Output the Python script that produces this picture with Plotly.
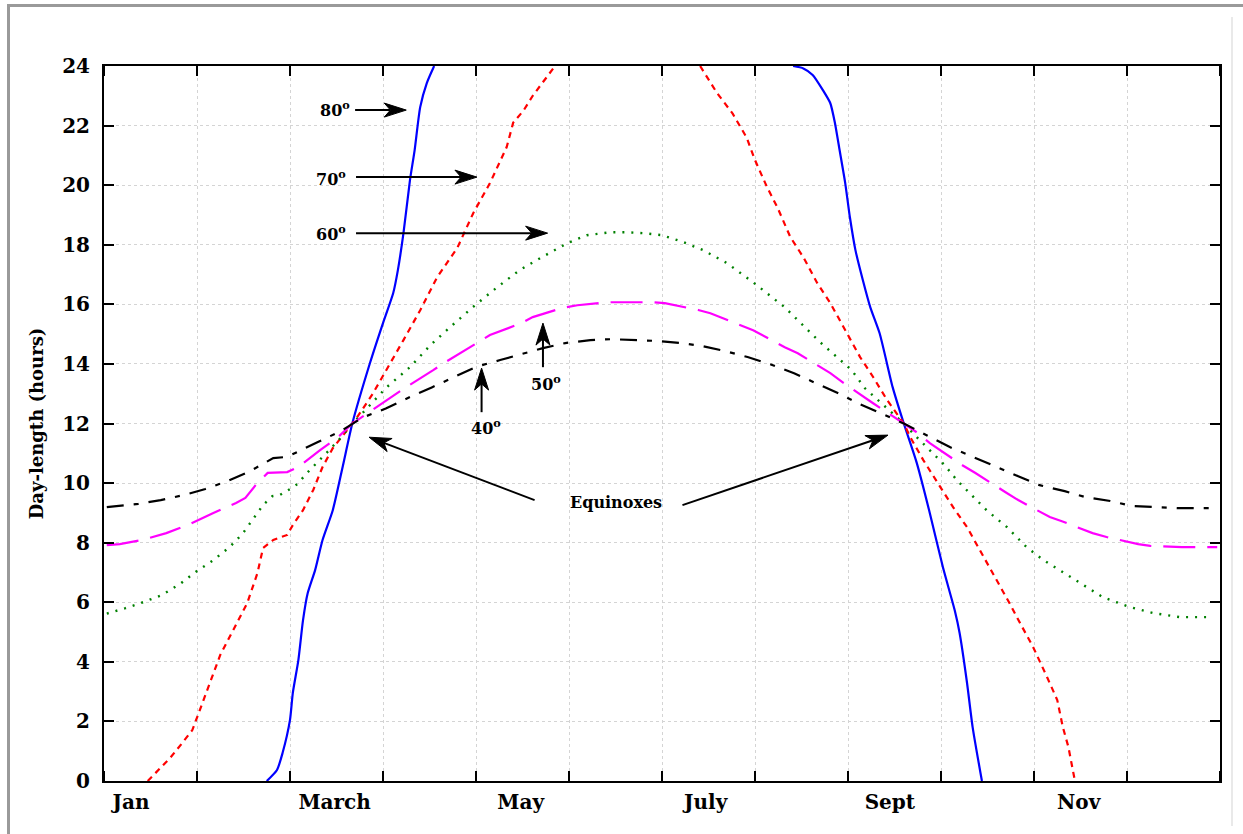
import math
import plotly.graph_objects as go

# Day length (hours) through the year for several northern latitudes.
# x values are in months since 1 January (0 = Jan 1, 12 = Dec 31).
# None marks the stretch of continuous daylight (polar day) that runs off the top of the axis.

lat40_month = [0.03, 0.37, 0.61, 0.86, 1.09, 1.33, 1.57, 1.82, 1.97, 2.06, 2.30, 2.55, 2.67,
               2.78, 3.03, 3.29, 3.53, 3.77, 4.00, 4.26, 4.49, 4.72, 4.96, 5.23, 5.46, 5.72,
               5.96, 6.20, 6.43, 6.68, 6.92, 7.16, 7.42, 7.65, 7.89, 8.13, 8.37, 8.60, 8.85,
               9.10, 9.35, 9.59, 9.83, 10.06, 10.33, 10.55, 10.82, 11.05, 11.30, 11.55, 11.97]
lat40_hours = [9.19, 9.30, 9.43, 9.60, 9.80, 10.07, 10.40, 10.84, 10.88, 11.02, 11.38, 11.75, 12.00,
               12.20, 12.50, 12.89, 13.22, 13.56, 13.90, 14.13, 14.33, 14.53, 14.70, 14.80, 14.83, 14.80,
               14.77, 14.70, 14.60, 14.43, 14.23, 13.99, 13.69, 13.36, 13.02, 12.65, 12.32, 12.00, 11.60,
               11.20, 10.87, 10.54, 10.23, 9.93, 9.73, 9.53, 9.40, 9.23, 9.19, 9.16, 9.16]

lat50_month = [0.03, 0.17, 0.41, 0.67, 0.92, 1.17, 1.42, 1.52, 1.63, 1.76, 1.97, 2.09, 2.32, 2.52,
               2.67, 3.05, 3.20, 3.54, 3.67, 4.01, 4.15, 4.49, 4.61, 4.92, 5.09, 5.41, 5.57,
               5.90, 6.03, 6.39, 6.52, 6.84, 6.98, 7.32, 7.46, 7.81, 7.94, 8.27, 8.42, 8.60,
               8.75, 8.88, 9.23, 9.37, 9.69, 9.83, 10.17, 10.30, 10.63, 10.78, 11.12, 11.25,
               11.59, 11.97]
lat50_hours = [7.92, 7.95, 8.09, 8.32, 8.62, 8.99, 9.33, 9.50, 9.93, 10.34, 10.37, 10.54, 11.10, 11.55,
               12.00, 12.79, 13.12, 13.79, 14.06, 14.70, 14.97, 15.37, 15.57, 15.87, 15.97, 16.07, 16.07,
               16.07, 16.04, 15.81, 15.70, 15.30, 15.13, 14.56, 14.36, 13.69, 13.39, 12.68, 12.38, 12.00,
               11.68, 11.34, 10.60, 10.34, 9.70, 9.43, 8.86, 8.72, 8.32, 8.19, 7.95, 7.89,
               7.85, 7.85]

lat60_month = [0.03, 0.23, 0.42, 0.62, 0.82, 1.00, 1.17, 1.35, 1.49, 1.60, 1.71, 1.81, 1.89, 2.00,
               2.08, 2.18, 2.30, 2.41, 2.54, 2.67, 2.78, 3.04, 3.29, 3.51, 3.72, 3.99, 4.23,
               4.47, 4.69, 4.98, 5.19, 5.44, 5.62, 5.80, 6.00, 6.23, 6.44, 6.70, 6.98, 7.19,
               7.32, 7.70, 7.89, 8.04, 8.18, 8.32, 8.47, 8.60, 8.74, 8.88, 9.04, 9.17, 9.31,
               9.49, 9.71, 9.92, 10.10, 10.28, 10.53, 10.74, 11.03, 11.28, 11.57, 11.86]
lat60_hours = [5.62, 5.80, 6.00, 6.24, 6.62, 7.05, 7.40, 7.85, 8.30, 8.80, 9.26, 9.56, 9.60, 9.80,
               9.97, 10.33, 10.70, 11.07, 11.50, 12.00, 12.35, 13.22, 13.89, 14.63, 15.23, 15.97, 16.58,
               17.15, 17.55, 18.05, 18.32, 18.42, 18.42, 18.39, 18.32, 18.09, 17.82, 17.38, 16.74, 16.24,
               15.90, 14.73, 14.19, 13.79, 13.19, 12.79, 12.35, 12.00, 11.54, 11.11, 10.60, 10.10, 9.66,
               9.09, 8.52, 7.85, 7.42, 7.08, 6.58, 6.17, 5.84, 5.64, 5.50, 5.50]

lat70_month = [0.47, 0.71, 0.84, 0.95, 1.03, 1.14, 1.25, 1.39, 1.54, 1.65, 1.71, 1.82, 1.97,
               2.03, 2.14, 2.25, 2.35, 2.46, 2.57, 2.67, 2.72, 2.89, 3.04, 3.22, 3.40, 3.58,
               3.80, 3.97, 4.15, 4.26, 4.33, 4.40, 4.51, 4.61, 4.71, 4.85, None,
               6.41, 6.59, 6.76, 6.91, 7.00, 7.13, 7.24, 7.38, 7.52, 7.67, 7.81, 7.99, 8.13,
               8.27, 8.42, 8.60, 8.67, 8.81, 8.99, 9.13, 9.28, 9.42, 9.56, 9.74, 9.85, 9.99,
               10.14, 10.25, 10.31, 10.37, 10.44]
lat70_hours = [0.00, 0.77, 1.27, 1.71, 2.38, 3.29, 4.23, 5.07, 5.97, 6.98, 7.82, 8.09, 8.26,
               8.59, 9.09, 9.77, 10.54, 11.17, 11.60, 12.00, 12.20, 13.00, 13.80, 14.80, 15.80, 16.90,
               17.90, 19.06, 20.07, 20.80, 21.28, 22.10, 22.50, 23.00, 23.40, 24.00, None,
               24.00, 23.10, 22.40, 21.60, 20.84, 19.93, 19.26, 18.26, 17.58, 16.71, 16.04, 15.03, 14.23,
               13.56, 12.79, 12.00, 11.54, 10.77, 9.87, 9.19, 8.52, 7.75, 6.98, 5.95, 5.30, 4.50,
               3.49, 2.72, 1.81, 1.14, 0.00]

lat80_month = [1.75, 1.86, 1.92, 2.00, 2.03, 2.09, 2.14, 2.19, 2.27, 2.35, 2.46, 2.57, 2.67,
               2.86, 3.00, 3.11, 3.16, 3.22, 3.29, 3.34, 3.40, 3.47, 3.55, None,
               7.41, 7.52, 7.62, 7.73, 7.81, 7.86, 7.91, 7.97, 8.02, 8.08, 8.16, 8.24, 8.34,
               8.48, 8.60, 8.74, 8.88, 9.02, 9.15, 9.20, 9.28, 9.34, 9.44]
lat80_hours = [0.00, 0.37, 0.94, 2.05, 2.95, 4.06, 5.40, 6.30, 7.08, 8.09, 9.09, 10.60, 12.00,
               14.03, 15.37, 16.38, 17.15, 18.39, 20.17, 21.17, 22.62, 23.42, 24.00, None,
               24.00, 23.92, 23.70, 23.19, 22.75, 22.08, 21.17, 20.07, 18.93, 17.82, 16.81, 15.90, 15.03,
               13.22, 12.00, 10.67, 8.99, 7.18, 5.70, 4.97, 3.29, 1.81, 0.00]

month_labels = ["Jan", "March", "May", "July", "Sept", "Nov"]
month_label_pos = [0.29, 2.48, 4.48, 6.47, 8.45, 10.48]
month_bounds = list(range(13))
hour_ticks = list(range(0, 25, 2))

SERIF = "DejaVu Serif"

# figure geometry (pixels) used to orient the hand-drawn arrow heads
W, H = 1243, 834
ML, MR, MT, MB = 104, 23, 66, 53
PLOT_W, PLOT_H = W - ML - MR, H - MT - MB
PX_X = PLOT_W / 12.0
PX_Y = PLOT_H / 24.0

fig = go.Figure()

series = [
    (lat80_month, lat80_hours, "80°", dict(color="#0000ff", width=2.2, dash="solid",
                                          shape="spline", smoothing=0.6)),
    (lat70_month, lat70_hours, "70°", dict(color="#ff0000", width=2.2, dash="6px,5px")),
    (lat60_month, lat60_hours, "60°", dict(color="#008000", width=2.4, dash="2px,7px")),
    (lat50_month, lat50_hours, "50°", dict(color="#ff00ff", width=2.2, dash="32px,12px")),
    (lat40_month, lat40_hours, "40°", dict(color="#000000", width=2.2, dash="17px,10px,5px,10px")),
]
for xs, ys, name, style in series:
    fig.add_trace(go.Scatter(x=xs, y=ys, mode="lines", name=name, line=style,
                             connectgaps=False, showlegend=False, hoverinfo="x+y+name"))

shapes = []


def arrow(x0, y0, x1, y1, head_len=22, head_half=7):
    """Shaft from (x0, y0) to (x1, y1) with a notched head at (x1, y1)."""
    dxp = (x1 - x0) * PX_X
    dyp = (y1 - y0) * PX_Y
    n = math.hypot(dxp, dyp)
    ux, uy = dxp / n, dyp / n
    nx, ny = -uy, ux
    notch = 0.72 * head_len
    sx = x1 - ux * notch / PX_X
    sy = y1 - uy * notch / PX_Y
    shapes.append(dict(type="line", xref="x", yref="y", x0=x0, y0=y0, x1=sx, y1=sy,
                       line=dict(color="black", width=2), layer="above"))
    pts = [(0, 0),
           (-head_len * ux + head_half * nx, -head_len * uy + head_half * ny),
           (-notch * ux, -notch * uy),
           (-head_len * ux - head_half * nx, -head_len * uy - head_half * ny)]
    path = "M " + " L ".join(f"{px:.2f} {py:.2f}" for px, py in pts) + " Z"
    shapes.append(dict(type="path", xref="x", yref="y", xsizemode="pixel", ysizemode="pixel",
                       xanchor=x1, yanchor=y1, path=path, fillcolor="black",
                       line=dict(color="black", width=1), layer="above"))


# latitude pointers
arrow(2.70, 22.52, 3.25, 22.52)
arrow(2.71, 20.27, 4.01, 20.27)
arrow(2.71, 18.39, 4.77, 18.39)
arrow(4.72, 13.89, 4.72, 15.37)
arrow(4.06, 12.38, 4.06, 13.86)
# equinox pointers
arrow(4.63, 9.43, 2.85, 11.54)
arrow(6.22, 9.26, 8.43, 11.61)

# outer frame of the figure
px_to_paper_x = lambda px: (px - ML) / PLOT_W
px_to_paper_y = lambda py: (H - MB - py) / PLOT_H
shapes += [
    dict(type="line", xref="paper", yref="paper", x0=px_to_paper_x(7), x1=px_to_paper_x(1243),
         y0=px_to_paper_y(5.5), y1=px_to_paper_y(5.5), line=dict(color="#9a9a9a", width=3)),
    dict(type="line", xref="paper", yref="paper", x0=px_to_paper_x(8.5), x1=px_to_paper_x(8.5),
         y0=px_to_paper_y(4), y1=px_to_paper_y(834), line=dict(color="#9a9a9a", width=3)),
    dict(type="line", xref="paper", yref="paper", x0=px_to_paper_x(1232), x1=px_to_paper_x(1232),
         y0=px_to_paper_y(17), y1=px_to_paper_y(826), line=dict(color="#e2e2e2", width=1.5)),
]

label_font = dict(family=SERIF, size=16, color="black", weight="bold")
annotations = [
    dict(x=2.67, y=22.55, text="80<sup>o</sup>", xanchor="right"),
    dict(x=2.62, y=20.25, text="70<sup>o</sup>", xanchor="right"),
    dict(x=2.62, y=18.40, text="60<sup>o</sup>", xanchor="right"),
    dict(x=4.75, y=13.36, text="50<sup>o</sup>", xanchor="center"),
    dict(x=4.11, y=11.88, text="40<sup>o</sup>", xanchor="center"),
    dict(x=5.51, y=9.36, text="Equinoxes", xanchor="center"),
]
for a in annotations:
    a.update(xref="x", yref="y", showarrow=False, yanchor="middle", font=label_font)

fig.update_layout(
    width=W, height=H,
    margin=dict(l=ML, r=MR, t=MT, b=MB, pad=0),
    paper_bgcolor="white", plot_bgcolor="white",
    shapes=shapes, annotations=annotations,
    xaxis=dict(
        range=[0, 12], tickmode="array", tickvals=month_label_pos, ticktext=month_labels,
        ticks="", showgrid=False, zeroline=False,
        showline=True, linecolor="black", linewidth=2, mirror="ticks",
        tickfont=dict(family=SERIF, size=20, color="black", weight="bold"),
        ticklabelstandoff=2,
        minor=dict(tickmode="array", tickvals=month_bounds, ticks="inside", ticklen=10,
                   tickwidth=2, tickcolor="black", showgrid=True, gridcolor="#d4d4d4",
                   gridwidth=1, griddash="dot"),
    ),
    yaxis=dict(
        range=[0, 24], tickmode="array", tickvals=hour_ticks,
        ticks="inside", ticklen=10, tickwidth=2, tickcolor="black",
        showgrid=True, gridcolor="#d4d4d4", gridwidth=1, griddash="dot", zeroline=False,
        showline=True, linecolor="black", linewidth=2, mirror="ticks",
        tickfont=dict(family=SERIF, size=20, color="black", weight="bold"),
        ticklabelstandoff=8,
        title=dict(text="Day-length (hours)", standoff=14,
                   font=dict(family=SERIF, size=18, color="black", weight="bold")),
    ),
)

fig.write_html("out.html")
